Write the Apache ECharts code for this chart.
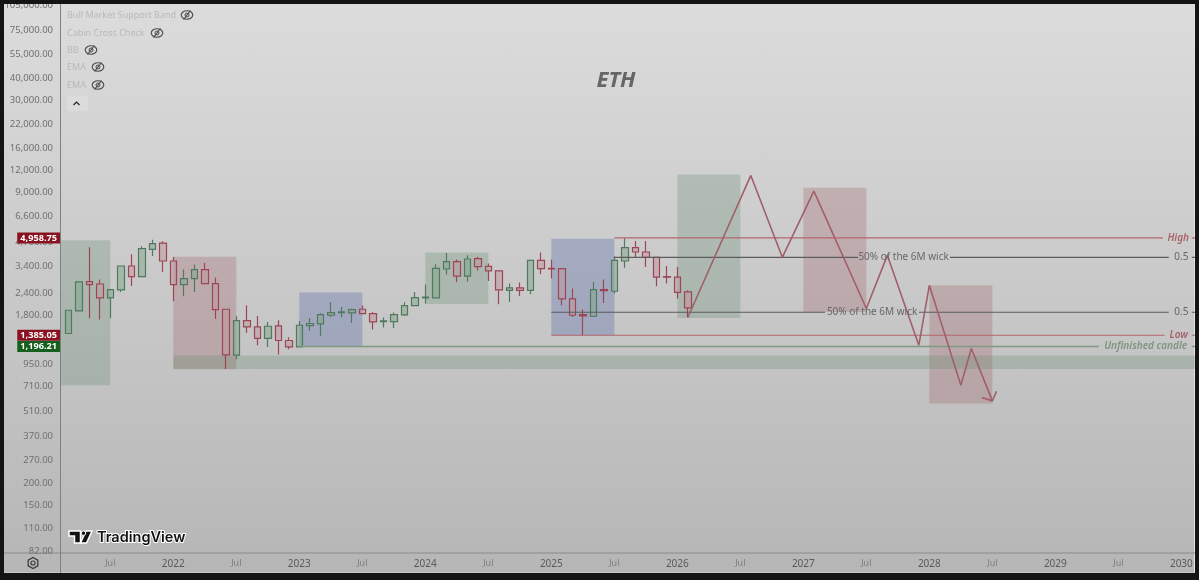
<!DOCTYPE html>
<html lang="en">
<head>
    <meta charset="UTF-8">
    <title>ETH</title>
    <style>
        html, body { margin: 0; padding: 0; background: #141414; overflow: hidden; }
        #panel {
            position: absolute; left: 4px; top: 4px; width: 1190px; height: 568px;
            background: linear-gradient(#dcdcdc, #b6b6b6); border-right: 1px solid #e4e4e4; border-bottom: 1px solid #c8c8c8;
        }
        #chart { position: absolute; left: 0; top: 0; width: 1199px; height: 580px; }
        #topframe { position: absolute; left: 0; top: 0; width: 1199px; height: 4px; background: #141414; }
    </style>
    <script src="https://cdn.jsdelivr.net/npm/echarts@6/dist/echarts.min.js"></script>
</head>
<body>
<div id="panel"></div>
<div id="chart"></div>
<div id="topframe"></div>

<script>
    // month index: 0 = Mar 2021, one per month
    // [open, close, low, high]
    var candles = [
        [1417, 1922, 1417, 1922], [1905, 2784, 1905, 2784], [2799, 2691, 1731, 4385], [2711, 2258, 1701, 2873],
        [2258, 2520, 1731, 2520], [2507, 3432, 2442, 3432], [3432, 2988, 2642, 4001], [2988, 4311, 2988, 4443],
        [4271, 4602, 3911, 4849], [4638, 3664, 3173, 4742], [3664, 2691, 2163, 3861], [2691, 2911, 2308, 3275],
        [2911, 3275, 2442, 3496], [3275, 2727, 2727, 3570], [2727, 1940, 1715, 2949], [1947, 1071, 891, 1947],
        [1067, 1679, 1012, 1777], [1679, 1544, 1429, 2044], [1544, 1328, 1216, 1784], [1328, 1558, 1189, 1649],
        [1565, 1293, 1076, 1686], [1293, 1189, 1154, 1350], [1189, 1579, 1189, 1671], [1573, 1615, 1467, 1738],
        [1606, 1817, 1368, 1849], [1800, 1865, 1762, 2142], [1865, 1880, 1754, 2007], [1856, 1940, 1628, 1966],
        [1947, 1841, 1841, 2044], [1841, 1649, 1493, 1873], [1657, 1671, 1532, 1747], [1657, 1817, 1524, 1865],
        [1809, 2044, 1784, 2134], [2044, 2269, 2033, 2442], [2258, 2285, 2098, 2691], [2258, 3330, 2239, 3507],
        [3300, 3636, 3068, 4071], [3636, 3003, 2775, 3732], [3003, 3761, 2799, 3946], [3781, 3400, 3232, 3881],
        [3419, 3216, 2821, 3542], [3216, 2507, 2079, 3216], [2497, 2575, 2142, 2727], [2575, 2497, 2318, 2763],
        [2497, 3698, 2372, 3698], [3698, 3317, 3092, 4092], [3330, 3300, 2911, 3732], [3317, 2229, 2052, 3317],
        [2229, 1800, 1762, 2553], [1817, 1784, 1385, 1940], [1777, 2520, 1777, 2784], [2520, 2487, 2115, 2873],
        [2465, 3698, 2390, 3900], [3664, 4368, 3355, 4958], [4368, 4124, 3861, 4761], [4124, 3847, 3385, 4761],
        [3847, 2970, 2631, 3847], [2988, 2961, 2727, 3432], [2970, 2432, 2239, 3385], [2442, 1981, 1747, 2497]
    ];

    var priceTicks = [105000, 75000, 55000, 40000, 30000, 22000, 16000, 12000, 9000, 6600, 4700, 3400, 2400, 1800,
        950, 710, 510, 370, 270, 200, 150, 110, 82];
    var monthTicks = [4, 10, 16, 22, 28, 34, 40, 46, 52, 58, 64, 70, 76, 82, 88, 94, 100, 106];
    var monthTickLabels = ['Jul', '2022', 'Jul', '2023', 'Jul', '2024', 'Jul', '2025', 'Jul', '2026', 'Jul', '2027',
        'Jul', '2028', 'Jul', '2029', 'Jul', '2030'];

    var xMin = -0.695, xMax = 107.3;
    var yMin = 79.8, yMax = 105400;

    // half year boxes: [from month, to month, top price, bottom price, kind]
    var boxes = [
        [xMin, 4, 4805, 719, 'green'],
        [10, 16, 3881, 886, 'red'],
        [22, 28, 2423, 1196, 'blue'],
        [34, 40, 4092, 2087, 'green'],
        [46, 52, 4913, 1386, 'blue'],
        [58, 64, 11400, 1738, 'green'],
        [70, 76, 9573, 1880, 'red'],
        [82, 88, 2666, 566, 'red'],
        [10, xMax, 1063, 889, 'green']
    ];

    // the projected path
    var pathMonths = [59, 65, 68, 71, 76, 78, 81, 82, 85, 86, 88];
    var pathPrices = [1747, 11251, 3846, 9161, 1966, 3946, 1216, 2666, 719, 1165, 586];
    var arrowMonths = [87, 88, 88.4];
    var arrowPrices = [612, 586, 665];

    // levels, each broken where its text sits
    var highSegments = [[52, 104.25], [107, xMax]];
    var upperMidSegments = [[52, 75.2], [83.96, 104.8], [107, xMax]];
    var lowerMidSegments = [[46, 72.06], [81, 104.8], [107, xMax]];
    var lowSegments = [[46, 104.4], [107, xMax]];
    var unfinishedSegments = [[22, 98.15], [107, xMax]];

    var noteTexts = ['High', '0.5', '50% of the 6M wick', '0.5', '50% of the 6M wick', 'Low', 'Unfinished candle'];
    var noteMonths = [105.7, 106, 79.55, 106, 76.55, 105.75, 102.6];
    var notePrices = [4958.75, 3846, 3846, 1872, 1872, 1385, 1196];
    var noteColors = ['#a9616b', '#66676a', '#66676a', '#66676a', '#66676a', '#a9616b', '#7c957f'];

    var tagTexts = ['4,958.75', '1,385.05', '1,196.21'];
    var tagPrices = [4958.75, 1385.05, 1196.21];
    var tagColors = ['#8a1220', '#8a1220', '#14601c'];

    var legendNames = ['Bull Market Support Band', 'Cabin Cross Check', 'BB', 'EMA', 'EMA'];

    var boxFill = { green: 'rgba(98,140,108,0.28)', red: 'rgba(150,70,80,0.24)', blue: 'rgba(88,108,172,0.34)' };
    var fontName = '"Noto Sans", sans-serif';

    function segmentData(segments, price) {
        var out = [];
        segments.forEach(function (s, i) {
            if (i > 0) out.push([null, null]);
            out.push([s[0], price], [s[1], price]);
        });
        return out;
    }

    function levelSeries(segments, price, color, width) {
        return {
            type: 'line', data: segmentData(segments, price), symbol: 'none', silent: true, z: 4,
            connectNulls: false, lineStyle: { color: color, width: width }
        };
    }

    function eyeIcon(cx, cy) {
        return {
            type: 'group', x: cx, y: cy, silent: true,
            children: [
                { type: 'ellipse', shape: { cx: 0, cy: 0, rx: 5.8, ry: 4.2 }, style: { fill: 'none', stroke: '#4a4a4a', lineWidth: 1.1 } },
                { type: 'circle', shape: { cx: 0, cy: 0, r: 2 }, style: { fill: 'none', stroke: '#4a4a4a', lineWidth: 1 } },
                { type: 'line', shape: { x1: -3.5, y1: 4.5, x2: 3.5, y2: -4.5 }, style: { stroke: '#4a4a4a', lineWidth: 1.1 } }
            ]
        };
    }

    var legendY = [15, 33, 50, 67, 85];
    var legendIconX = [187, 157, 91, 98, 98];
    var graphics = [];
    legendNames.forEach(function (name, i) {
        graphics.push({
            type: 'text', x: 67, y: legendY[i], silent: true,
            style: { text: name, fill: '#b9b9b9', font: '9px ' + fontName, textVerticalAlign: 'middle' }
        });
        graphics.push(eyeIcon(legendIconX[i], legendY[i]));
    });
    graphics.push(
        { type: 'rect', shape: { x: 67, y: 96, width: 21, height: 15, r: 2 }, style: { fill: '#dcdcdc' }, silent: true },
        { type: 'polyline', shape: { points: [[73.5, 105], [76.5, 102], [79.5, 105]] }, style: { stroke: '#222', lineWidth: 1.2, fill: 'none' }, silent: true },
        {
            type: 'text', x: 616, y: 81, silent: true,
            style: { text: 'ETH', fill: '#666', font: 'italic bold 22px ' + fontName, textAlign: 'center', textVerticalAlign: 'middle' }
        },
        // logo
        {
            type: 'polygon', silent: true,
            shape: { points: [[69, 531], [80.5, 531], [80.5, 543], [74.5, 543], [74.5, 536], [69, 536]] },
            style: { fill: '#111', stroke: '#fff', lineWidth: 1.5 }
        },
        {
            type: 'polygon', silent: true,
            shape: { points: [[86, 531], [92, 531], [86.5, 543], [80.5, 543]] },
            style: { fill: '#111', stroke: '#fff', lineWidth: 1.5 }
        },
        { type: 'circle', shape: { cx: 83.5, cy: 533.2, r: 2.2 }, style: { fill: '#111', stroke: '#fff', lineWidth: 1 }, silent: true },
        {
            type: 'text', x: 97, y: 537.5, silent: true,
            style: { text: 'TradingView', fill: '#111', stroke: '#fff', lineWidth: 2, font: '600 14.5px Inter, sans-serif', textVerticalAlign: 'middle' }
        },
        // settings button and the axis rules
        { type: 'polygon', shape: { points: [[33, 557.5], [37.8, 560.2], [37.8, 565.8], [33, 568.5], [28.2, 565.8], [28.2, 560.2]] }, style: { fill: 'none', stroke: '#3c3c3c', lineWidth: 1.3 }, silent: true },
        { type: 'circle', shape: { cx: 33, cy: 563, r: 2 }, style: { fill: 'none', stroke: '#3c3c3c', lineWidth: 1.2 }, silent: true },
        { type: 'line', shape: { x1: 4, y1: 553, x2: 1195, y2: 553 }, style: { stroke: '#8a8a8a', lineWidth: 1 }, silent: true },
        { type: 'line', shape: { x1: 60.5, y1: 4, x2: 60.5, y2: 573 }, style: { stroke: '#808080', lineWidth: 1 }, silent: true }
    );

    var chart = echarts.init(document.getElementById('chart'));
    var option = {
        animation: false,
        grid: { left: 61, right: 4, top: 4, bottom: 27 },
        xAxis: {
            type: 'value', min: xMin, max: xMax,
            splitLine: { show: false }, axisLine: { show: false }, axisTick: { show: false },
            axisLabel: {
                customValues: monthTicks, margin: 6,
                formatter: function (v) {
                    var label = monthTickLabels[monthTicks.indexOf(Math.round(v))];
                    return label === 'Jul' ? '{m|Jul}' : '{y|' + label + '}';
                },
                rich: {
                    m: { color: '#7d7d7d', fontSize: 9, fontFamily: fontName },
                    y: { color: '#5a5a5a', fontSize: 10, fontFamily: fontName }
                }
            }
        },
        yAxis: {
            type: 'log', min: yMin, max: yMax, logBase: 10,
            splitLine: { show: false }, axisLine: { show: false }, axisTick: { show: false }, minorTick: { show: false },
            axisLabel: {
                customValues: priceTicks, margin: 8, color: '#6f6f6f', fontSize: 9.5, fontFamily: fontName,
                hideOverlap: false, showMinLabel: true, showMaxLabel: true,
                formatter: function (v) {
                    return Math.round(v).toLocaleString('en-US') + '.00';
                }
            }
        },
        series: [
            {
                type: 'candlestick', barWidth: 7, z: 3, silent: true,
                encode: { x: 0, y: [1, 2, 3, 4] },
                data: candles.map(function (c, i) { return [i, c[0], c[1], c[2], c[3]]; }),
                itemStyle: {
                    color: 'rgba(128,165,138,0.5)', color0: 'rgba(190,150,156,0.5)',
                    borderColor: '#50795f', borderColor0: '#9c4655', borderWidth: 1.2
                },
                markArea: {
                    silent: true, z: 1,
                    data: boxes.map(function (b) {
                        return [
                            { coord: [b[0], b[2]], itemStyle: { color: boxFill[b[4]] } },
                            { coord: [b[1], b[3]] }
                        ];
                    })
                }
            },
            levelSeries(highSegments, 4958.75, '#b5666e', 1.2),
            levelSeries(upperMidSegments, 3846, '#5c5c5e', 1.2),
            levelSeries(lowerMidSegments, 1872, '#5c5c5e', 1.2),
            levelSeries(lowSegments, 1385, '#b5666e', 1.2),
            levelSeries(unfinishedSegments, 1196, '#7f9a80', 1.5),
            {
                type: 'line', symbol: 'none', silent: true, z: 5,
                data: pathMonths.map(function (m, i) { return [m, pathPrices[i]]; }),
                lineStyle: { color: '#a15f69', width: 1.6 }
            },
            {
                type: 'line', symbol: 'none', silent: true, z: 5,
                data: arrowMonths.map(function (m, i) { return [m, arrowPrices[i]]; }),
                lineStyle: { color: '#a15f69', width: 1.6 }
            },
            {
                type: 'scatter', symbolSize: 0, silent: true, z: 6, itemStyle: { opacity: 1 },
                data: noteTexts.map(function (t, i) {
                    var slanted = noteColors[i] !== '#66676a';
                    return {
                        value: [noteMonths[i], notePrices[i]],
                        label: {
                            show: true, position: 'inside', formatter: t, color: noteColors[i],
                            fontSize: 10, fontFamily: fontName, fontStyle: slanted ? 'italic' : 'normal',
                            fontWeight: slanted ? 600 : 'normal'
                        }
                    };
                })
            },
            {
                type: 'scatter', symbolSize: 0, silent: true, z: 8, clip: false, itemStyle: { opacity: 1 },
                data: tagTexts.map(function (t, i) {
                    return {
                        value: [xMin, tagPrices[i]],
                        label: {
                            show: true, position: 'left', distance: 1, formatter: t, color: '#fff',
                            backgroundColor: tagColors[i], padding: [1, 3, 1, 3],
                            fontSize: 9.2, fontWeight: 'bold', fontFamily: fontName
                        }
                    };
                })
            }
        ],
        graphic: graphics
    };
    chart.setOption(option);
</script>
</body>
</html>
